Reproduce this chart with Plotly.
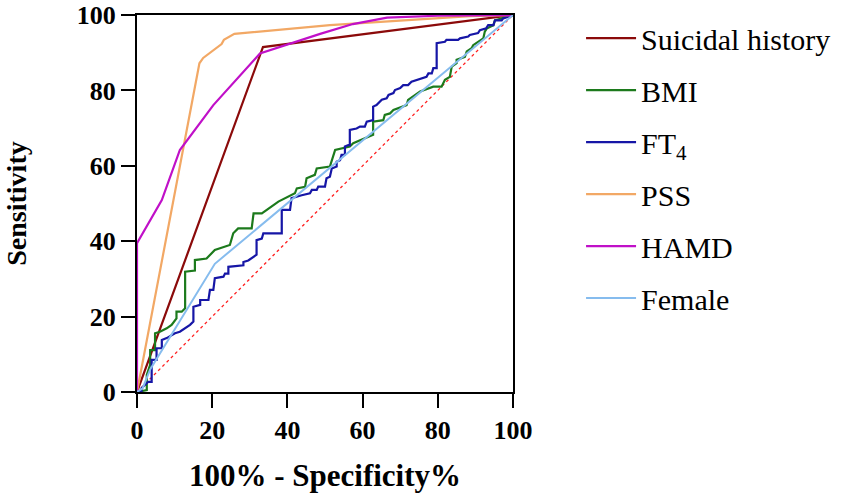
import plotly.graph_objects as go

# ---- data ----
suicidal_x = [0, 33.5, 100]
suicidal_y = [0, 91.5, 100]

pss_x = [0, 16.6, 17.6, 20.3, 22.5, 23.1, 25.9, 51.3, 70.0, 88.6, 100]
pss_y = [0, 87.2, 88.6, 90.7, 92.3, 93.4, 95.0, 97.3, 98.6, 99.7, 100]

hamd_x = [0, 0, 6.6, 11.4, 20.3, 32.7, 48.7, 57.4, 66.5, 80.0, 100]
hamd_y = [0, 39.5, 50.9, 64.2, 76.1, 89.8, 95.0, 97.6, 99.3, 99.8, 100]

female_x = [0, 1.5, 3.5, 20.7, 100]
female_y = [0, 1.0, 6.0, 34.0, 100]

bmi_x = [0, 2.6, 2.6, 3.5, 3.5, 4.8, 4.8, 6.1, 7.9, 9.2, 10.5, 10.5, 11.9, 12.8, 12.8,
         15.4, 15.4, 18.5, 20.7, 24.7, 25.6, 26.9, 30.5, 31.0, 33.2, 37.6, 42.0, 42.5,
         44.7, 45.1, 47.3, 47.8, 51.3, 52.2, 52.7, 56.6, 57.5, 62.8, 62.8, 65.5, 65.9,
         67.3, 68.2, 71.7, 72.1, 75.3, 78.8, 81.0, 81.9, 83.2, 83.7, 85.0, 85.0, 87.2,
         87.7, 89.0, 89.4, 92.1, 92.5, 93.0, 94.8, 95.2, 97.0, 99.6, 100]
bmi_y = [0, 0.5, 4.5, 7.2, 11.1, 11.1, 15.6, 16.0, 16.9, 17.8, 19.5, 21.3, 21.3, 22.2, 31.9,
         32.2, 35.0, 35.4, 37.7, 39.0, 42.1, 43.4, 43.4, 47.4, 47.4, 50.5, 52.7, 54.0,
         54.4, 56.7, 57.6, 59.3, 59.8, 62.4, 64.2, 65.1, 66.0, 68.2, 71.7, 72.1, 73.5,
         73.9, 74.8, 76.1, 77.5, 79.7, 81.0, 81.0, 82.8, 83.6, 86.3, 87.2, 88.1, 88.9,
         90.3, 91.2, 92.0, 93.8, 95.6, 96.4, 97.3, 98.6, 99.1, 99.7, 100]

ft4_x = [0, 1.2, 1.2, 3.0, 3.9, 3.9, 5.2, 5.2, 6.6, 6.6, 7.9, 10.1, 11.4, 12.8, 14.1, 15.0,
         15.0, 16.8, 16.8, 19.0, 19.4, 20.3, 20.7, 23.0, 23.4, 24.3, 24.3, 28.3, 28.3, 29.6,
         30.9, 31.8, 31.8, 33.2, 33.6, 38.5, 38.5, 40.7, 41.1, 42.9, 43.8, 46.0, 46.5, 47.8,
         48.2, 50.0, 50.4, 51.3, 51.8, 53.1, 53.1, 54.0, 54.4, 55.3, 55.3, 56.2, 56.6, 56.6,
         58.4, 59.3, 60.6, 61.1, 62.8, 62.8, 63.7, 65.1, 66.4, 66.9, 68.2, 68.6, 70.0, 70.8,
         72.1, 73.0, 74.4, 75.3, 77.0, 77.5, 78.4, 78.8, 79.7, 79.7, 81.9, 82.3, 85.4, 85.9,
         88.1, 88.5, 90.7, 91.2, 92.9, 93.4, 94.8, 95.2, 97.0, 97.4, 98.8, 100]
ft4_y = [0, 0.1, 1.0, 2.7, 2.7, 8.5, 8.5, 11.6, 11.6, 13.8, 14.3, 15.6, 16.0, 16.9, 17.8, 18.7,
         22.6, 23.1, 24.4, 24.4, 27.1, 27.1, 30.2, 30.6, 31.4, 31.4, 33.2, 33.6, 34.5, 34.9,
         35.8, 36.4, 40.3, 40.7, 42.1, 42.1, 48.3, 48.3, 51.4, 51.8, 52.2, 52.7, 53.6, 53.6,
         54.5, 54.5, 56.7, 57.1, 59.3, 59.8, 61.1, 61.5, 62.9, 62.9, 65.1, 65.5, 65.5, 69.5,
         69.9, 70.4, 70.4, 71.7, 72.1, 75.7, 76.1, 77.5, 77.9, 78.8, 79.3, 80.1, 80.6, 81.4,
         81.4, 82.3, 82.8, 83.2, 83.6, 84.5, 84.5, 85.9, 85.9, 92.5, 92.9, 93.4, 93.4, 93.8,
         94.3, 94.7, 95.2, 96.0, 96.5, 97.3, 97.3, 98.6, 98.6, 99.1, 99.5, 100]

ref_x = [0, 100]
ref_y = [0, 100]

tick_vals = [0, 20, 40, 60, 80, 100]
tick_text = ["0", "20", "40", "60", "80", "100"]

series = [
    ("Suicidal history", suicidal_x, suicidal_y, "#8B0A0A", 2.2),
    ("BMI", bmi_x, bmi_y, "#1C7A1C", 2.2),
    ("FT<sub>4</sub>", ft4_x, ft4_y, "#1616A6", 2.2),
    ("PSS", pss_x, pss_y, "#F2A865", 2.2),
    ("HAMD", hamd_x, hamd_y, "#C010C8", 2.2),
    ("Female", female_x, female_y, "#86BCEE", 2.0),
]

fig = go.Figure()
fig.add_trace(go.Scatter(x=ref_x, y=ref_y, mode="lines", showlegend=False,
                         line=dict(color="#FF2020", width=1.3, dash="dot"),
                         hoverinfo="skip"))
for i, (name, xs, ys, col, w) in enumerate(series):
    fig.add_trace(go.Scatter(x=xs, y=ys, mode="lines", name=name,
                             legendgroup=f"g{i}",
                             line=dict(color=col, width=w)))

font_family = "Liberation Serif"
axis_common = dict(
    range=[0, 100], showgrid=False, zeroline=False,
    showline=True, linecolor="black", linewidth=2, mirror=True,
    ticks="outside", ticklen=14, tickwidth=2, tickcolor="black",
    tickvals=tick_vals, ticktext=tick_text,
    tickfont=dict(family=font_family, size=26, color="black", weight="bold"),
    layer="below traces",
)

fig.update_layout(
    width=851, height=496,
    margin=dict(l=137, r=338, t=15, b=104, autoexpand=False),
    paper_bgcolor="white", plot_bgcolor="white",
    font=dict(family=font_family, color="black"),
    xaxis=dict(**axis_common,
               title=dict(text="<b>100% - Specificity%</b>", standoff=20,
                          font=dict(family=font_family, size=31, color="black"))),
    yaxis=dict(**axis_common,
               title=dict(text="<b>Sensitivity</b>", standoff=42,
                          font=dict(family=font_family, size=28, color="black"))),
    legend=dict(x=1.181, y=0.594, xanchor="left", yanchor="middle",
                font=dict(family=font_family, size=30, color="black"),
                itemwidth=50,
                tracegroupgap=10, bgcolor="rgba(0,0,0,0)"),
    showlegend=True,
)

fig.write_html("out.html",
               config={"displayModeBar": False},
               post_script="document.body.style.margin='0px';")
